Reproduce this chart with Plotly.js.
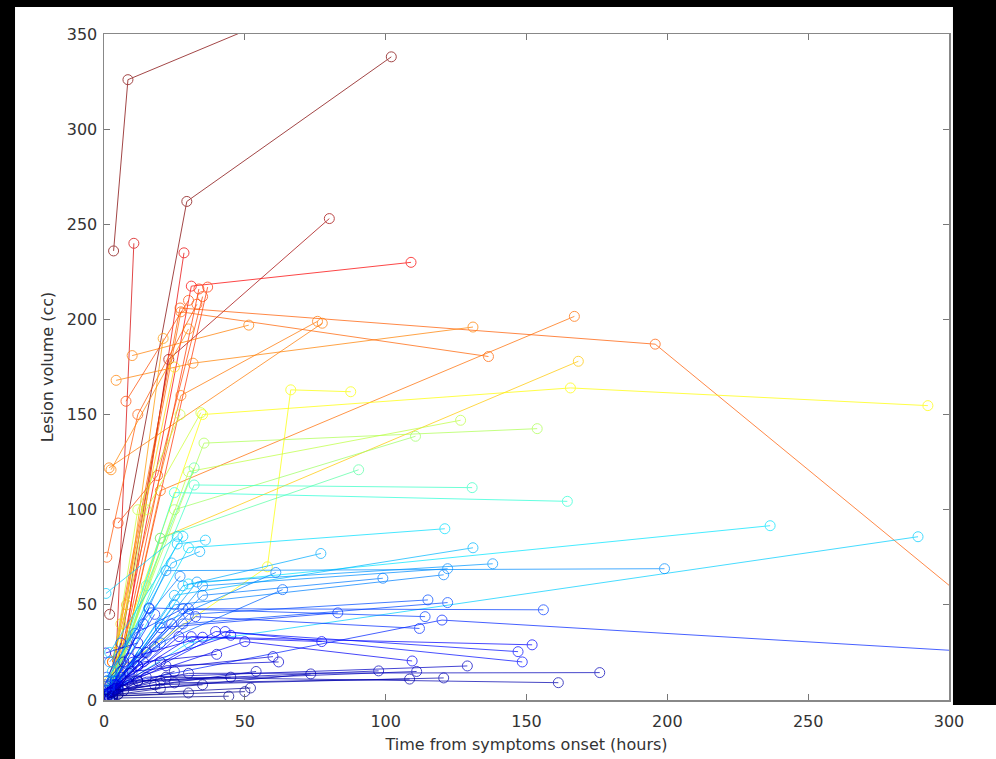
<!DOCTYPE html>
<html>
<head>
<meta charset="utf-8">
<script src="https://cdn.plot.ly/plotly-3.0.1.min.js"></script>
<style>
  html, body { margin: 0; padding: 0; background: #fff; overflow: hidden; }
  #chart { width: 996px; height: 759px; }
</style>
</head>
<body>
<div id="chart"></div>
<script>
// Time points (hours from symptoms onset) for each patient
const times = [
  [3.4, 8.5, 70], [2, 29.4, 102], [4, 10.6], [7, 28.4], [5, 23, 80],
  [5, 31, 109], [6, 33.7], [8, 36.8], [3, 27, 195.7, 320], [3, 27.3, 75.8],
  [4.3, 31.6, 131], [4, 27.3, 136.5], [10, 51.4], [5, 20, 167], [4, 20, 168.4],
  [1.8, 77.5], [7.8, 30], [1, 12, 33], [5, 19, 35], [2.5, 30],
  [2, 6, 25], [3, 8, 21],
  [2, 35, 165.6, 292.5], [4, 58, 66.3, 87.6], [3, 15, 34.4], [2, 12, 27],
  [3, 35.5, 153.8], [5, 30, 126.6], [4, 25, 110.6], [3, 20, 90.4], [3, 32, 130.7],
  [2, 25, 164.5], [2, 15, 32],
  [4, 30, 121], [3, 30, 236.5], [3, 30, 289], [3, 25, 131], [2, 28, 77],
  [3, 33, 138], [0.7, 26],
  [2, 22, 199], [4, 120, 330], [5, 35, 122], [3, 25, 120.6], [4, 35, 99],
  [2, 20, 61], [3, 20, 63.4], [5, 30, 115], [3, 28, 122], [4, 30, 156],
  [2, 20, 83], [4, 16, 114], [5, 32.5, 112], [3, 26.6, 77.3], [2, 10, 60],
  [4, 31, 152], [5, 39.6, 147], [3, 43, 148.5], [4, 50, 109.4], [3, 15, 129],
  [5, 20, 111], [4, 12, 97.5], [2, 73.4], [3, 54], [4, 25, 108.5],
  [3, 18, 120.6], [5, 52], [4, 30, 176], [3, 22, 161.3], [2, 44.3],
  [3, 50], [1, 30], [0.6, 12], [2, 8, 20], [1, 6, 15],
  [3, 10, 25], [2, 5, 12], [1, 9, 35], [4, 12, 45], [2, 14],
  [3, 18], [1, 7], [1, 12], [2, 18], [0.5, 6],
  [3, 9], [1.5, 14, 40], [2.5, 11, 28], [1, 16], [4, 22, 62],
  [2, 7, 35], [1, 5, 20], [3, 12, 45], [6, 24], [2, 27],
  [1, 24, 34], [3, 26, 36], [2, 28]
];
// Lesion volumes (cc) matching the time points above
const volumes = [
  [236, 326, 364], [45, 262, 338], [12, 240], [25, 235], [20, 179, 253],
  [15, 217.5, 230], [20, 216], [30, 217], [20, 206, 187, 36], [20, 160, 199],
  [168, 177, 196], [25, 204, 180.5], [181, 197], [10, 110, 201.6], [8, 85, 178],
  [122, 198], [157, 210], [75, 150, 208], [93, 118, 212], [121, 195],
  [5, 40, 175], [2, 50, 190],
  [10, 150, 164, 154.7], [15, 70, 163, 162], [10, 100, 151], [8, 100, 150],
  [10, 135, 142.6], [15, 120, 147], [12, 100, 138.6], [10, 85, 121], [8, 113, 111.6],
  [5, 109, 104.4], [4, 60, 122],
  [10, 80, 90], [5, 61, 91.6], [5, 30, 85.8], [5, 55, 80], [4, 60, 77],
  [6, 62, 71.6], [56, 86],
  [4, 68, 69], [8, 42, 23.5], [8, 60, 69], [5, 50, 65.8], [10, 55, 64],
  [4, 40, 67], [10, 30, 58], [8, 45, 52.6], [6, 40, 51.2], [8, 48, 47.4],
  [4, 38, 45.8], [10, 48.4, 43.8], [6, 43.8, 37.6], [5, 33.3, 30.7], [4, 15, 22.8],
  [8, 33.3, 29], [6, 36, 25.4], [5, 36, 20], [8, 30.7, 20.5], [6, 12, 17.9],
  [5, 10, 15], [6, 10, 15.3], [4, 13.7], [5, 15], [5, 9, 11],
  [4, 8, 11.6], [3, 6.3], [7, 14, 14.4], [4, 12, 9.1], [1, 2],
  [2, 4.4], [2, 3.7], [24.7, 30], [3, 10, 20], [5, 12, 25],
  [2, 8, 15], [1, 6, 18], [3, 22, 33], [6, 18, 34], [8, 40],
  [5, 28], [10, 20], [2, 25], [6, 45], [8, 30],
  [1, 14], [4, 20, 24], [3, 35, 48], [12, 48], [6, 18, 20],
  [1, 5, 8], [0.5, 3, 6], [2, 10, 12], [15, 40], [20, 65],
  [10, 72, 78], [15, 82, 84], [25, 86]
];
const xTicks = [0, 50, 100, 150, 200, 250, 300];
const yTicks = [0, 50, 100, 150, 200, 250, 300, 350];
const xTitle = 'Time from symptoms onset (hours)';
const yTitle = 'Lesion volume (cc)';
const colorMax = 262;

function jet(v) {
  const t = Math.max(0, Math.min(1, v / colorMax));
  const c = a => Math.max(0, Math.min(1, a));
  const r = c(Math.min(4 * t - 1.5, -4 * t + 4.5));
  const g = c(Math.min(4 * t - 0.5, -4 * t + 3.5));
  const b = c(Math.min(4 * t + 0.5, -4 * t + 2.5));
  return 'rgb(' + Math.round(r * 255) + ',' + Math.round(g * 255) + ',' + Math.round(b * 255) + ')';
}

const traces = times.map((t, i) => {
  const col = jet(Math.max.apply(null, volumes[i]));
  return {
    x: t, y: volumes[i], type: 'scatter', mode: 'lines+markers',
    line: { color: col, width: 1 },
    marker: { symbol: 'circle-open', size: 10, color: col, line: { width: 1, color: col } },
    opacity: 0.72, showlegend: false, hoverinfo: 'none', cliponaxis: true
  };
});

const font = { family: 'DejaVu Sans, Arial, sans-serif', size: 16, color: '#333' };
const axisCommon = {
  ticks: 'inside', ticklen: 6, tickwidth: 1, tickcolor: '#777',
  showline: true, linecolor: '#888', linewidth: 1.5, mirror: 'ticks',
  showgrid: false, zeroline: false, tickfont: font
};

const layout = {
  width: 996, height: 759,
  margin: { l: 104, r: 47, t: 34, b: 59 },
  paper_bgcolor: '#fff', plot_bgcolor: '#fff',
  showlegend: false,
  xaxis: Object.assign({}, axisCommon, {
    range: [0, 300], tickvals: xTicks, ticktext: xTicks.map(String),
    ticklabelstandoff: 6,
    title: { text: xTitle, font: font, standoff: 9 }
  }),
  yaxis: Object.assign({}, axisCommon, {
    range: [0, 350], tickvals: yTicks, ticktext: yTicks.map(String),
    ticklabelstandoff: 2,
    title: { text: yTitle, font: font, standoff: 9 }
  }),
  shapes: [
    { type: 'rect', xref: 'paper', yref: 'paper', x0: -0.2, x1: -0.1053, y0: -0.2, y1: 1.2, fillcolor: '#000', line: { width: 0 }, layer: 'above' },
    { type: 'rect', xref: 'paper', yref: 'paper', x0: -0.2, x1: 1.2, y0: 1.0405, y1: 1.2, fillcolor: '#000', line: { width: 0 }, layer: 'above' },
    { type: 'rect', xref: 'paper', yref: 'paper', x0: 1.0047, x1: 1.2, y0: -0.0075, y1: 1.2, fillcolor: '#000', line: { width: 0 }, layer: 'above' }
  ]
};

Plotly.newPlot('chart', traces, layout, { staticPlot: true, displayModeBar: false });
</script>
</body>
</html>
